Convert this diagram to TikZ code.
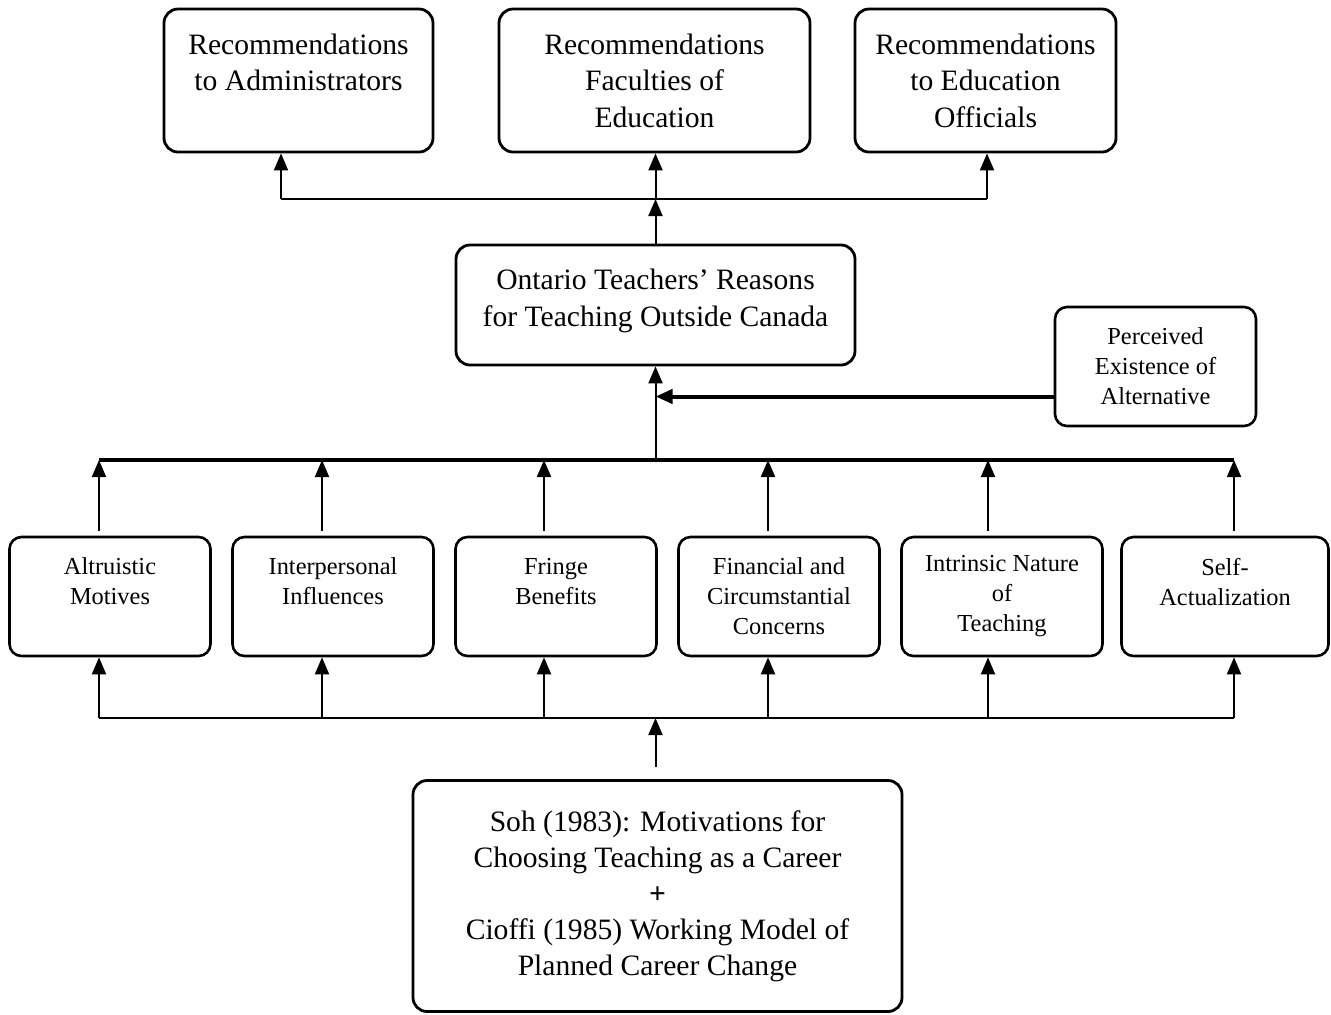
\documentclass[tikz,border=0pt]{standalone}
\usepackage{fontspec}
\setmainfont{Liberation Serif}
\usetikzlibrary{arrows.meta, positioning}

\begin{document}
\begin{tikzpicture}[x=0.5pt,y=-0.5pt,>={Triangle[length=8.5pt,width=7pt]},
      node distance=111.5pt,on grid,
      every node/.style={align=center,inner sep=0pt},
      bigbox/.style={draw,rounded corners=7pt,line width=1.4pt,font=\fontsize{14.8}{18.3}\selectfont},
      midbox/.style={draw,rounded corners=6pt,line width=1.3pt,minimum width=100.5pt,
        minimum height=59.5pt,font=\fontsize{12.2}{15}\selectfont},
      link/.style={->,line width=1pt}]
      \useasboundingbox (0,0) rectangle (1331,1014);
      % recommendations
      \node[bigbox,minimum width=134.5pt,minimum height=71.5pt] (adm) at (298.5,80.5) {Recommendations\\to Administrators\\\mbox{}};
      \node[bigbox,minimum width=155.5pt,minimum height=71.5pt] (fac) at (654.5,80.5) {Recommendations\\Faculties of\\Education};
      \node[bigbox,minimum width=130.5pt,minimum height=71.5pt] (ofc) at (985.5,80.5) {Recommendations\\to Education\\Officials};
      % reasons
      \node[bigbox,minimum width=199.5pt,minimum height=60pt] (ont) at (655.5,305) {Ontario Teachers’ Reasons\\for Teaching Outside Canada\\[-11pt]\mbox{}};
      \node[midbox] (per) at (1155.5,366.5) {Perceived\\Existence of\\Alternative};
      % motivations
      \node[midbox] (alt) at (110,596.5) {Altruistic\\Motives\\\mbox{}};
      \node[midbox] (inter) [right=of alt] {Interpersonal\\Influences\\\mbox{}};
      \node[midbox] (fringe) [right=of inter] {Fringe\\Benefits\\\mbox{}};
      \node[midbox] (fin) [right=of fringe] {Financial and\\Circumstantial\\Concerns};
      \node[midbox] (intr) [right=of fin] {Intrinsic Nature\\of\\Teaching};
      \node[midbox,minimum width=103.5pt] (self) [right=of intr] {Self-\\Actualization\\\mbox{}};
      % sources
      \node[bigbox,minimum width=244.5pt,minimum height=115.5pt,font=\fontsize{14.8}{18}\selectfont] (soh) at (657.5,896) {Soh (1983): Motivations for\\Choosing Teaching as a Career\\\textbf{+}\\Cioffi (1985) Working Model of\\Planned Career Change};

      \coordinate (tadm) at (281,199);
      \coordinate (tofc) at (987,199);
      \draw[line width=1.4pt] (tadm) -- (tofc);
      \draw[link] (tadm) -- (tadm |- adm.south);
      \draw[link] (tofc) -- (tofc |- ofc.south);
      \draw[link] (ont.north) -- (ont.north |- tadm);
      \draw[link] (ont.north |- tadm) -- (ont.north |- fac.south);

      \foreach \b/\x in {alt/99,inter/322,fringe/544,fin/768,intr/988,self/1234} {
        \coordinate (up-\b) at (\x,460);
        \coordinate (lo-\b) at (\x,718);
        \draw[link,shorten <=2.5pt] (\b.north -| up-\b) -- (up-\b);
        \draw[link] (lo-\b) -- (\b.south -| lo-\b);
      }
      \draw[line width=1.6pt] (up-alt) -- (up-self);
      \draw[line width=1.3pt] (lo-alt) -- (lo-self);
      \draw[link] (ont.south |- up-alt) -- (ont.south);
      \coordinate (palt) at ([yshift=-15pt]per.west);
      \draw[->,line width=2pt] (palt) -- (palt -| ont.south);
      \draw[link,shorten <=6pt] (soh.north -| ont.south) -- (ont.south |- lo-alt);
    \end{tikzpicture}
\end{document}
